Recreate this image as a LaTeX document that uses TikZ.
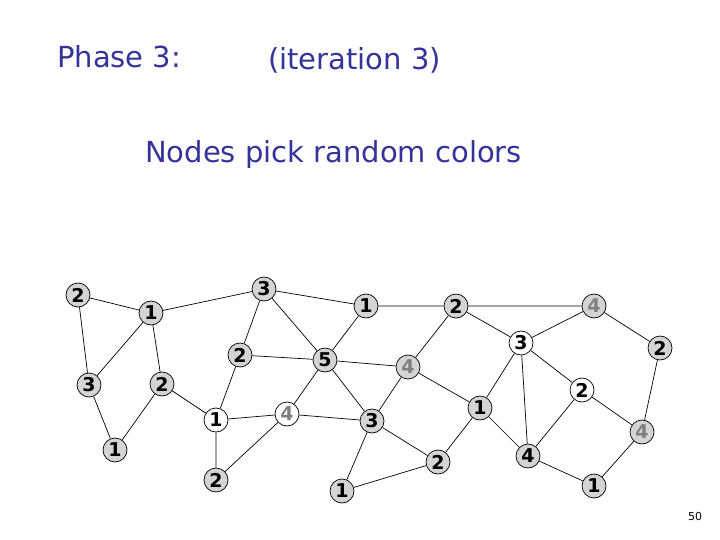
\documentclass[tikz,border=0pt]{standalone}
\usepackage{fontspec}
\setmainfont{DejaVu Sans}
\usepackage{tikz}
\usetikzlibrary{positioning}
\definecolor{slideBlue}{HTML}{33339A}
\definecolor{nodeFill}{HTML}{D4D4D4}
\definecolor{fadedInk}{HTML}{7F7F7F}
\begin{document}
\begin{tikzpicture}[x=1pt,y=-1pt,
  vtx/.style={circle,draw=black,line width=0.7pt,minimum size=24pt,inner sep=0pt,
              font=\fontsize{19}{19}\selectfont\bfseries},
  grey/.style={vtx,fill=nodeFill},
  blank/.style={vtx,fill=white},
  faded/.style={text=fadedInk},
  title/.style={anchor=base west,text=slideBlue,inner sep=0pt,
                font=\fontsize{29}{33}\selectfont},
  edge/.style={draw=black,line width=0.7pt}]
\useasboundingbox (0,0) rectangle (720,540);
\node[title] (phase) at (57,68) {Phase 3:};
\node[title] (iter) at (268,70) {(iteration 3)};
\node[title] (pick) at (145,163) {Nodes pick random colors};
\node[anchor=base,inner sep=0pt,font=\fontsize{11}{11}\selectfont] (page) at (695,520) {50};
% graph
\node[grey] (A) at (78,295) {2};
\node[grey] (B) at (151,313) {1};
\node[grey] (C) at (264,289) {3};
\node[grey] (D) at (366,306) {1};
\node[grey] (E) at (456,306) {2};
\node[grey,faded] (F) at (594,306) {4};
\node[blank] (G) at (521,343) {3};
\node[grey] (H) at (660,348) {2};
\node[grey] (I) at (240,355) {2};
\node[grey] (J) at (325,360) {5};
\node[grey,faded] (K) at (408,367) {4};
\node[grey] (L) at (89,385) {3};
\node[grey] (M) at (162,384) {2};
\node[blank] (N) at (582,390) {2};
\node[blank] (O) at (216,420) {1};
\node[blank,faded] (P) at (287,414) {4};
\node[grey] (Q) at (372,421) {3};
\node[grey] (R) at (480,408) {1};
\node[grey,faded] (S) at (642,432) {4};
\node[grey] (T) at (115,450) {1};
\node[grey] (U) at (438,462) {2};
\node[grey] (V) at (528,456) {4};
\node[grey] (W) at (216,480) {2};
\node[grey] (X) at (342,491) {1};
\node[grey] (Y) at (594,486) {1};
\draw[edge] (A) -- (B) (A) -- (L);
\draw[edge] (B) -- (C) (B) -- (L) (B) -- (M);
\draw[edge] (C) -- (D) (C) -- (I) (C) -- (J);
\draw[edge] (D) -- (E) (D) -- (J);
\draw[edge] (E) -- (F) (E) -- (G) (E) -- (K);
\draw[edge] (F) -- (G) (F) -- (H);
\draw[edge] (G) -- (R) (G) -- (V) (G) -- (N);
\draw[edge] (H) -- (S);
\draw[edge] (I) -- (J) (I) -- (O);
\draw[edge] (J) -- (K) (J) -- (P) (J) -- (Q);
\draw[edge] (K) -- (Q) (K) -- (R);
\draw[edge] (L) -- (T);
\draw[edge] (M) -- (T) (M) -- (O);
\draw[edge] (N) -- (V) (N) -- (S);
\draw[edge] (O) -- (P) (O) -- (W);
\draw[edge] (P) -- (Q) (P) -- (W);
\draw[edge] (Q) -- (U) (Q) -- (X);
\draw[edge] (R) -- (U) (R) -- (V);
\draw[edge] (S) -- (Y);
\draw[edge] (U) -- (X);
\draw[edge] (V) -- (Y);
\end{tikzpicture}
\end{document}
